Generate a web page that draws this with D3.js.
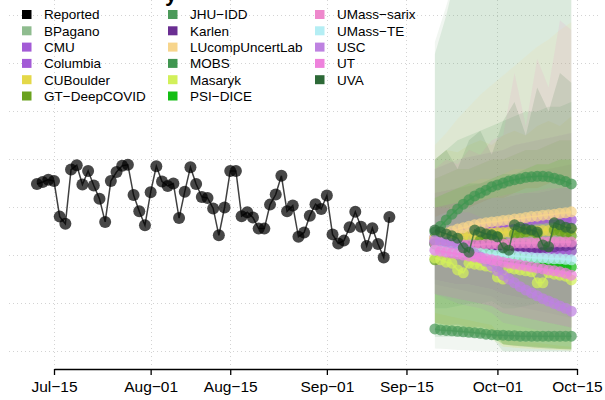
<!DOCTYPE html>
<html><head><meta charset="utf-8">
<script src="https://cdn.jsdelivr.net/npm/d3@7"></script>
<style>body{margin:0;background:#fff} svg{display:block;font-family:"Liberation Sans",Arial,Helvetica,sans-serif}</style>
</head><body><svg id="chart" width="605" height="400"></svg>
<script>
// ---------- data ----------
const reportedStart = "2020-07-12";
const reported = [34.9,35.3,35.8,35.5,28.1,26.6,37.9,38.8,34.8,37.6,34.6,31.8,27.0,35.5,37.4,38.7,38.9,32.6,29.2,26.3,
  33.2,38.6,35.4,34.5,35.0,27.8,33.3,38.4,34.9,32.2,32.0,29.8,24.2,30.0,37.6,37.6,28.2,29.0,27.9,25.6,
  25.6,30.6,32.7,36.6,29.2,30.4,23.9,24.8,28.3,30.7,29.7,32.5,24.4,22.5,23.1,25.9,29.1,26.0,22.0,25.7,
  22.4,19.6,28.0];

const forecastStart = "2020-09-20";
const modelNames = ["BPagano","CMU","Columbia","CUBoulder","GT\u2212DeepCOVID","JHU\u2212IDD","Karlen","LUcompUncertLab",
  "MOBS","Masaryk","PSI\u2212DICE","UMass\u2212sarix","UMass\u2212TE","USC","UT","UVA"];
const modelColors = ["#8FBC8F","#A35BD6","#A35BD6","#E4D848","#6AA21E","#4C9A5A","#6A2E92","#F7D58C",
  "#409650","#D2F05A","#14BE14","#EE88CC","#B4EEF4","#BE82E1","#EE82DC","#2D6937"];

const fcBPagano = [23.2,23.2,23.1,23.0,22.9,22.9,22.7,22.6,22.6,22.4,22.3,22.3,22.1,22.0,22.0,21.9,21.8,21.8,21.6,21.5,21.5,21.3,21.2,21.2,21.0];
const fcCMU = [23.9,24.1,24.3,24.5,24.7,24.9,25.1,25.3,25.5,25.7,25.9,26.1,26.4,26.6,26.8,27.0,27.2,27.4,27.6,27.7,27.8,27.8,27.7,27.6,27.4];
const fcColumbia = [22.4,22.4,22.2,22.2,22.0,22.0,21.8,21.8,21.8,21.6,21.6,21.6,21.4,21.4,21.4,21.4,21.1,21.1,21.1,21.1,21.1,20.9,20.9,20.9,20.9];
const fcCUBoulder = [23.6,23.7,23.9,24.0,24.1,24.2,24.3,24.4,24.5,24.6,24.7,24.8,24.8,24.9,24.9,25.0,25.0,25.1,25.1,25.2,25.2,25.3,25.3,25.3,25.4];
const fcGT = [19.1,21.1,21.6,22.0,21.8,20.7,20.3,22.2,23.2,23.6,24.1,23.9,22.6,22.0,24.5,24.7,24.9,25.1,24.5,22.4,22.0,25.3,25.1,24.7,24.1];
const fcJHU = [4.7,4.5,4.4,4.3,4.2,4.1,4.0,3.9,3.8,3.6,3.5,3.4,3.4,3.3,3.3,3.2,3.2,3.2,3.2,3.2,3.2,3.2,3.2,3.2,3.2];
const fcKarlen = [22.6,22.4,22.4,22.2,22.0,21.8,21.8,22.0,22.0,22.0,21.8,21.8,21.6,21.6,21.8,21.8,21.8,21.6,21.6,21.6,21.8,21.8,22.0,22.0,22.2];
const fcLUcomp = [23.6,24.2,24.7,25.1,25.5,25.8,26.1,26.4,26.6,26.8,27.0,27.1,27.3,27.4,27.6,27.7,27.9,28.1,28.2,28.4,28.5,28.6,28.8,28.9,29.1];
const fcMOBS = [24.9,26.1,27.4,28.6,29.7,30.7,31.6,32.4,33.0,33.6,34.3,34.7,35.1,35.5,35.8,36.0,36.3,36.4,36.5,36.5,36.4,36.1,35.8,35.4,34.9];
const fcMasaryk = [19.5,19.1,18.6,18.4,17.0,16.4,18.4,18.2,18.0,17.8,17.6,15.5,15.1,17.4,17.2,17.0,16.8,16.6,14.3,14.3,16.4,16.1,15.9,15.7,14.9];
const fcPSI = [22.4,22.0,21.8,21.6,21.4,21.1,20.9,20.7,20.5,20.3,20.1,19.9,19.7,19.6,19.5,19.3,19.1,18.9,18.6,18.4,18.2,18.1,18.0,17.8,17.6];
const fcSarix = [22.6,22.6,22.4,22.4,22.4,22.2,22.2,22.2,22.2,22.4,22.4,22.4,22.4,22.4,22.6,22.6,22.6,22.6,22.6,22.8,22.8,22.8,22.8,22.8,22.8];
const fcUMassTE = [21.1,21.1,20.9,20.9,20.8,20.7,20.6,20.5,20.4,20.3,20.2,20.1,20.1,20.0,19.9,19.8,19.7,19.6,19.5,19.5,19.4,19.3,19.3,19.2,19.1];
const fcUSC = [23.2,23.0,22.8,22.5,22.2,21.7,21.1,20.4,19.7,18.8,17.8,16.8,15.9,15.1,14.3,13.5,12.8,12.2,11.6,11.0,10.5,10.0,9.5,9.0,8.4];
const fcUT = [21.1,20.9,20.7,20.5,20.3,20.1,19.9,19.7,19.5,19.3,19.1,18.9,18.6,18.4,18.2,18.0,17.8,17.6,17.4,17.2,17.0,16.8,16.6,16.3,15.9];
const fcUVA = [25.3,24.9,24.5,24.1,23.6,21.6,20.7,25.3,24.9,24.5,24.3,23.9,21.6,21.1,26.4,25.9,25.5,25.3,24.9,22.2,21.8,26.8,26.4,25.9,25.7];

// uncertainty bands, given every second forecast day
const bandDays = [0,2,4,6,8,10,12,14,16,18,20,22,24];
const hiBPagano = [64.5,72,80,85,85,85,85,85,85,85,85,85,85];
const loBPagano = [0.6,0.5,0.3,0.2,0,0,0,0,0,0,0,0,0];
const hiCMU = [38,39,40,40.5,41,41.5,42,43,43.5,44,44.5,45,45.5];
const loCMU = [12,11.5,11,10.5,10,9.5,8,7.5,7,6.5,6,5.5,5];
const hiColumbia = [33,33.5,34,34.5,35,35.5,36,36.5,37,37.5,38,38.5,39];
const loColumbia = [14,13.5,13,12.5,12,11.5,10,9.5,9,8.5,8,7.5,7];
const hiCUBoulder = [40,42,41.5,43,44,43,45,46,45,47,48,47,49];
const loCUBoulder = [6,5.5,5.8,5,5.2,4.5,1.5,1,1.2,0.8,1,0.5,0.6];
const hiGT = [36,37,38,38,39,40,40,41,42,42,43,44,44];
const loGT = [5,4.5,4,4,3.5,3,1.5,1.2,1,0.8,0.6,0.5,0.4];
const hiJHU = [62,70,80,85,85,85,85,85,85,85,85,85,85];
const loJHU = [3,3,3,3,3,3,0,0,0,0,0,0,0];
const hiKarlen = [30,30.5,31,31,31.5,32,32,32.5,33,33,33.5,34,34];
const loKarlen = [15,14.5,14,14,13.5,13,12,11.5,11,11,10.5,10,10];
const hiLUcomp = [43,45.5,48.5,51,53.5,55.5,57.5,59.5,61.5,63.5,65,67,68.6];
const loLUcomp = [6,5.5,5,4.5,4,3.5,1,0.8,0.6,0.5,0.4,0.3,0.2];
const hiMOBS = [40,42,44,45,46,47,48,49,50,50,51,51,52];
const loMOBS = [9,9,9.5,10,10,10.5,9,9,9.5,10,10,10,10];
const hiMasaryk = [32,33,34,35,36,36,37,38,38,39,39,40,40];
const loMasaryk = [5,4.5,4,3.5,3,2.5,1,0.8,0.6,0.5,0.4,0.3,0.2];
const hiPSI = [32,33,34,35,35,36,37,37,38,39,39,40,40];
const loPSI = [5,4.5,4,4,3.5,3,1.5,1.3,1.1,1,0.8,0.6,0.5];
const hiSarix = [38,40,39,42,41,44,45,58,47,61,55,69,67];
const loSarix = [12,11.5,11,10.5,10,9.5,8,7.5,7,6.5,6,5.5,5];
const hiUMassTE = [28,29,30,30,31,32,32,33,34,34,35,36,36];
const loUMassTE = [8,7.5,7,6.5,6,5.5,2.5,2.2,2,1.8,1.5,1.2,1];
const hiUSC = [30,30,29,29,28,27,26,25,24,23,22,21,20];
const loUSC = [12,11,10,9.5,9,8,6,5.5,5,4.5,4,3.5,3];
const hiUT = [30,30.5,31,31,31.5,32,32.5,33,33,33.5,34,34,34.5];
const loUT = [12,11.5,11,10.5,10,9.5,8,7.5,7,6.5,6,5.5,5];
const hiUVA = [40,42,38,44,46,41,48,52,45,55,50,58,56];
const loUVA = [6,5.5,5.5,5,5,4.5,1.5,1.2,1,0.8,0.6,0.5,0.4];

const xTickLabels = ["Jul\u221215","Aug\u221201","Aug\u221215","Sep\u221201","Sep\u221215","Oct\u221201","Oct\u221215"];
const xTickDates = ["2020-07-15","2020-08-01","2020-08-15","2020-09-01","2020-09-15","2020-10-01","2020-10-15"];
const yGridValues = [0,10,20,30,40,50,60,70];

// ---------- build table ----------
const fcSeries = [fcBPagano,fcCMU,fcColumbia,fcCUBoulder,fcGT,fcJHU,fcKarlen,fcLUcomp,fcMOBS,fcMasaryk,fcPSI,fcSarix,fcUMassTE,fcUSC,fcUT,fcUVA];
const hiSeries = [hiBPagano,hiCMU,hiColumbia,hiCUBoulder,hiGT,hiJHU,hiKarlen,hiLUcomp,hiMOBS,hiMasaryk,hiPSI,hiSarix,hiUMassTE,hiUSC,hiUT,hiUVA];
const loSeries = [loBPagano,loCMU,loColumbia,loCUBoulder,loGT,loJHU,loKarlen,loLUcomp,loMOBS,loMasaryk,loPSI,loSarix,loUMassTE,loUSC,loUT,loUVA];
const parse = d3.utcParse("%Y-%m-%d");
const rStart = parse(reportedStart), fStart = parse(forecastStart);
const reportedPts = reported.map((v,i)=>({date:d3.utcDay.offset(rStart,i), v}));
const models = modelNames.map((name,k)=>({
  name, color:modelColors[k],
  pts: fcSeries[k].map((v,i)=>({date:d3.utcDay.offset(fStart,i), v})),
  band: bandDays.map((d,i)=>({date:d3.utcDay.offset(fStart,d), lo:loSeries[k][i], hi:hiSeries[k][i]}))
}));

// ---------- scales ----------
const svg = d3.select("#chart");
const x = d3.scaleUtc().domain([parse(xTickDates[0]), parse(xTickDates[6])]).range([54,577]);
const y = d3.scaleLinear().domain([0,70]).range([351.5,15.5]);

// grid
const grid = svg.append("g").attr("stroke","#d3d3d3").attr("stroke-dasharray","1,3").attr("stroke-width",1);
grid.selectAll("line.h").data(yGridValues).join("line")
  .attr("x1",9).attr("x2",600).attr("y1",d=>y(d)).attr("y2",d=>y(d));
grid.selectAll("line.v").data(xTickDates).join("line")
  .attr("x1",d=>Math.round(x(parse(d)))+0.5).attr("x2",d=>Math.round(x(parse(d)))+0.5).attr("y1",0).attr("y2",366);

// bands
const area = d3.area().x(d=>x(d.date)).y0(d=>y(d.lo)).y1(d=>y(d.hi)).defined(d=>d.lo!=null);
svg.append("g").selectAll("path").data(models).join("path")
  .attr("d",m=>area(m.band)).attr("fill",m=>m.color).attr("fill-opacity",0.13);

// reported
const line = d3.line().x(d=>x(d.date)).y(d=>y(d.v));
svg.append("path").attr("d",line(reportedPts)).attr("fill","none").attr("stroke","#000").attr("stroke-opacity",0.75).attr("stroke-width",1.5);
svg.append("g").selectAll("circle").data(reportedPts).join("circle")
  .attr("cx",d=>x(d.date)).attr("cy",d=>y(d.v)).attr("r",6).attr("fill","#000").attr("fill-opacity",0.72);

// forecasts
const fg = svg.append("g");
models.forEach(m=>{
  fg.append("path").attr("d",line(m.pts)).attr("fill","none").attr("stroke",m.color).attr("stroke-opacity",0.8).attr("stroke-width",1.5);
  fg.append("g").selectAll("circle").data(m.pts).join("circle")
    .attr("cx",d=>x(d.date)).attr("cy",d=>y(d.v)).attr("r",5.5).attr("fill",m.color).attr("fill-opacity",0.72);
});

// x axis
const ax = svg.append("g").attr("transform","translate(0,369)")
  .call(d3.axisBottom(x).tickValues(xTickDates.map(parse)).tickFormat((d,i)=>xTickLabels[i]).tickSize(6).tickSizeOuter(0).tickPadding(6));
ax.select(".domain").attr("stroke","#000").attr("stroke-width",1.3);
ax.selectAll(".tick line").attr("stroke","#000").attr("stroke-width",1.3);
ax.selectAll(".tick text").attr("font-size",15.5).attr("fill","#000").attr("font-family","'Liberation Sans',Arial,sans-serif");

// legend
const legendItems = [{name:"Reported",color:"#000000"}].concat(models.map(m=>({name:m.name,color:m.color})));
const colX = [22,168,315], rowY0 = 14.5, rowH = 16.3;
const lg = svg.append("g").attr("font-size",13.5);
legendItems.forEach((it,i)=>{
  const c = Math.floor(i/6), r = i%6;
  const gy = rowY0 + r*rowH;
  lg.append("rect").attr("x",colX[c]).attr("y",gy-4.5).attr("width",9.5).attr("height",9).attr("fill",it.color);
  lg.append("text").attr("x",colX[c]+22).attr("y",gy+4.8).text(it.name).attr("fill","#000");
});

// title (only its lowest part is inside the picture)
svg.append("text").attr("x",165).attr("y",0.5).attr("font-size",22).attr("font-weight","bold").text("y");
</script></body></html>
